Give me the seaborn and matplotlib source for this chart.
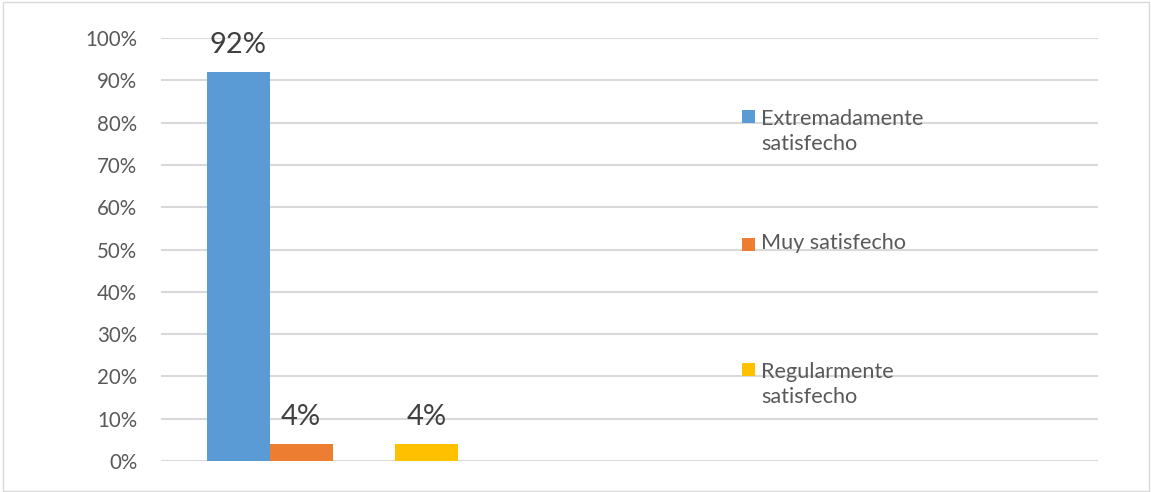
import numpy as np
import pandas as pd
import matplotlib
matplotlib.use("Agg")
import matplotlib.pyplot as plt
from matplotlib.patches import Rectangle
import seaborn as sns

# Survey results: share of respondents per satisfaction level
group = ["Satisfacción"]
series_names = ["Extremadamente satisfecho", "Muy satisfecho", "Regularmente satisfecho"]
series_values = [0.92, 0.04, 0.04]
series_colors = ["#5B9BD5", "#ED7D31", "#FFC000"]
legend_labels = ["Extremadamente\nsatisfecho", "Muy satisfecho", "Regularmente\nsatisfecho"]
# slot order of the clustered bars (one empty slot between the 2nd and 3rd series)
slot_order = ["Extremadamente satisfecho", "Muy satisfecho", "(vacío)", "Regularmente satisfecho"]
y_ticks = [0, 0.1, 0.2, 0.3, 0.4, 0.5, 0.6, 0.7, 0.8, 0.9, 1.0]
y_tick_labels = ["0%", "10%", "20%", "30%", "40%", "50%", "60%", "70%", "80%", "90%", "100%"]

df = pd.DataFrame({
    "grupo": group * len(series_names),
    "serie": series_names,
    "valor": series_values,
})

sns.set_theme(style="white")
plt.rcParams["font.family"] = ["Lato", "DejaVu Sans"]

W, H = 1151, 492
fig = plt.figure(figsize=(W / 100, H / 100), dpi=100)
ax = fig.add_axes([161 / W, 1 - 461 / H, (1098 - 161) / W, (461 - 38) / H])

slot_palette = {name: col for name, col in zip(series_names, series_colors)}
slot_palette["(vacío)"] = "#FFFFFF"

sns.barplot(data=df, x="grupo", y="valor", hue="serie", hue_order=slot_order,
            palette=slot_palette, saturation=1, width=0.8, dodge=True,
            legend=False, ax=ax, errorbar=None, linewidth=0, edgecolor="none")

for cont in ax.containers:
    vals = [b.get_height() for b in cont]
    ax.bar_label(cont, labels=[f"{v:.0%}" for v in vals], padding=10,
                 fontsize=21, color="#404040")

ax.set_xlim(-0.5465, 2.438)
ax.set_ylim(0, 1)
ax.set_yticks(y_ticks)
ax.set_yticklabels(y_tick_labels, fontsize=14.8, color="#595959")
ax.set_xticks([])
ax.set_xlabel("")
ax.set_ylabel("")
ax.tick_params(axis="y", length=0, pad=17)
ax.grid(axis="y", color="#D9D9D9", linewidth=1.5)
ax.set_axisbelow(True)
for s in ax.spines.values():
    s.set_visible(False)

# Legend on the right, entries spread over the plot height
marker_centers = [116, 244, 369]
text_centers = [131.5, 243, 384.5]
for lab, col, my, ty in zip(legend_labels, series_colors, marker_centers, text_centers):
    fig.add_artist(Rectangle((742 / W, 1 - (my + 6.5) / H), 13 / W, 13 / H,
                             transform=fig.transFigure, facecolor=col, edgecolor="none"))
    fig.text(761 / W, 1 - ty / H, lab, ha="left", va="center", fontsize=15.6,
             color="#595959", linespacing=1.35)

# Chart frame
fig.add_artist(Rectangle((3 / W, 1 - 491 / H), (1149 - 3) / W, (491 - 2) / H,
                         transform=fig.transFigure, facecolor="none",
                         edgecolor="#D9D9D9", linewidth=1))

fig.savefig("out.png", dpi=100)
